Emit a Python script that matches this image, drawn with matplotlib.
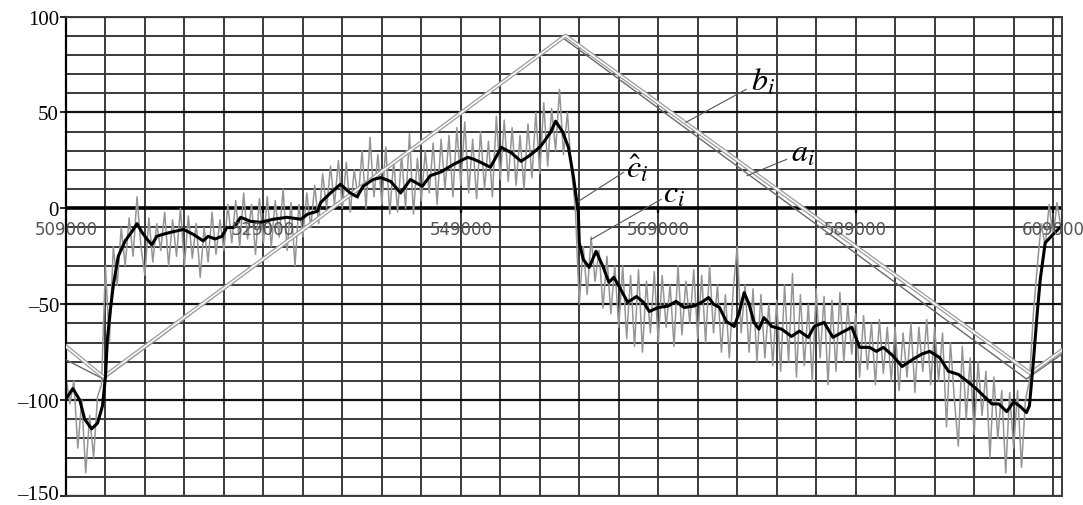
import numpy as np
import matplotlib
matplotlib.use("Agg")
import matplotlib.pyplot as plt
from matplotlib.transforms import ScaledTranslation

plt.rcParams['mathtext.fontset'] = 'stix'

# x axis in thousands of samples
x_min, x_max = 509.0, 609.9
x_labels = [509, 529, 549, 569, 589, 609]
y_labels = [100, 50, 0, -50, -100, -150]

# smoothed estimate (black line), c_hat_i
chat_x = [509.1, 509.7, 510.4, 510.9, 511.6, 512.2, 512.7, 513.0, 513.2, 513.5,
          513.8, 514.3, 515.0, 515.7, 516.2, 516.7, 517.2, 517.7, 518.2, 518.8,
          519.6, 520.9, 521.9, 522.9, 523.4, 524.1, 524.8, 525.3, 526.0, 526.7,
          527.7, 528.7, 530.0, 531.4, 532.8, 533.5, 534.5, 534.8, 535.8, 536.8,
          537.8, 538.5, 539.1, 540.1, 540.9, 541.9, 542.9, 543.9, 545.1, 545.9,
          547.0, 548.3, 549.7, 550.3, 551.0, 552.0, 553.1, 554.1, 555.1, 556.1,
          557.1, 558.1, 558.6, 559.3, 559.9, 560.4, 560.9, 561.0, 561.4, 562.0,
          562.7, 563.4, 564.0, 564.5, 565.2, 565.9, 566.8, 567.5, 568.1, 569.0,
          570.0, 570.8, 571.6, 572.6, 573.4, 574.1, 574.6, 575.2, 575.9, 576.7,
          577.2, 577.7, 578.2, 578.7, 579.2, 579.7, 580.5, 581.5, 582.5, 583.3,
          584.2, 584.8, 585.8, 586.7, 587.6, 588.6, 589.4, 590.4, 591.1, 591.8,
          592.8, 593.7, 594.7, 595.7, 596.5, 597.5, 598.4, 599.4, 600.5, 601.3,
          602.0, 602.8, 603.5, 604.3, 605.0, 605.6, 606.3, 606.6, 607.0, 607.4,
          607.7, 608.2, 609.2, 609.9]
chat_y = [-98.6, -94, -100, -110, -115, -112, -103, -88, -68, -53,
          -40, -25, -17, -12, -8, -12.5, -16, -19, -14.6, -13.6,
          -12.5, -11, -13.6, -17, -14.6, -16, -14.6, -10, -10, -4.7,
          -6.8, -7.3, -5.7, -4.7, -5.7, -3, -1.5, 3, 8, 12.5,
          8, 6, 11.5, 15, 16, 14, 8, 15, 11.5, 17,
          19, 23, 26.6, 25.6, 24, 21.4, 31.8, 29, 24.5, 28,
          32.4, 39.7, 45.4, 40, 31.8, 16.7, -2, -18, -26.6, -30.8,
          -22.4, -30.3, -38.6, -36, -42.3, -49, -46, -49, -53.8, -51.7,
          -51, -48.5, -51.7, -51, -49, -46.5, -50, -51.7, -59, -61.6,
          -54.3, -44, -50, -59.5, -63, -57, -61.6, -63, -66.8, -64,
          -67.3, -61.6, -59.5, -67.3, -64.7, -62, -72.5, -72.5, -74.6, -72.5,
          -77, -82.5, -79, -76, -74.6, -77.8, -85, -86.6, -91, -94.5,
          -98, -102, -102, -106, -101, -103, -106.5, -103, -80, -54,
          -37, -18, -12.5, -9]

# raw measurements (grey line), c_i, one value every 400 samples from 509000
c_vals = [
    -88, -102, -90, -125, -100, -138, -108, -130, -98, -92,
    -30, -70, -20, -40, -10, -30, -5, -25, 6, -20,
    -35, -5, -28, -8, -22, -2, -30, -6, -25, 0,
    -30, -4, -26, -8, -36, -10, -28, -2, -24, -6,
    -22, 2, -18, 4, -20, 8, -16, 2, -24, 5,
    -18, 6, -20, 4, -15, 10, -22, 3, -30, 2,
    -15, 8, -10, 12, -8, 18, 0, 22, 2, 25,
    0, 24, -2, 20, 5, 30, 0, 37, 6, 28,
    2, 32, -3, 25, -2, 28, 0, 39, -3, 26,
    4, 30, 8, 34, 2, 36, 10, 38, 6, 42,
    12, 45, 8, 36, 5, 40, 10, 35, 6, 48,
    15, 46, 14, 42, 12, 38, 10, 44, 16, 50,
    18, 55, 22, 52, 30, 62, 28, 50, 20, 0,
    -50, -20, -45, -15, -38, -22, -52, -25, -55, -30,
    -62, -30, -68, -35, -72, -32, -75, -38, -65, -33,
    -70, -35, -62, -40, -72, -30, -66, -38, -60, -32,
    -68, -35, -70, -30, -65, -40, -75, -45, -78, -42,
    -20, -65, -40, -75, -42, -80, -45, -78, -50, -82,
    -48, -85, -40, -80, -34, -88, -45, -82, -50, -90,
    -42, -78, -46, -92, -48, -85, -44, -80, -50, -76,
    -55, -88, -56, -84, -60, -92, -58, -86, -62, -90,
    -62, -95, -65, -88, -60, -96, -62, -85, -58, -92,
    -62, -90, -65, -114, -70, -100, -124, -72, -110, -78,
    -118, -80, -108, -85, -130, -88, -120, -95, -138, -96,
    -125, -95, -135, -100, -90, -55, -30, -8, -20, 2,
    -15, 3, -10,
]
c_x = 509.0 + 0.4 * np.arange(len(c_vals))

# piecewise linear models a_i (double line) and b_i (thin line)
a_x = [509.0, 512.8, 559.6, 606.7, 609.9]
a_y = [-72, -88, 90, -86, -74]
b_x = [509.0, 512.8, 559.3, 606.3, 609.9]
b_y = [-79, -89, 89, -89, -76]

fig = plt.figure(figsize=(10.83, 5.06), dpi=100)
ax = fig.add_axes([0.0609, 0.0178, 0.9197, 0.9476])
ax.set_xlim(x_min, x_max)
ax.set_ylim(-150, 100)

# grid
for gx in np.arange(509, 610, 4):
    ax.axvline(gx, color='#3a3a3a', lw=1.4, zorder=0)
for gy in np.arange(-150, 101, 10):
    if gy == 0:
        ax.axhline(gy, color='black', lw=2.6, zorder=0)
    elif gy % 50 == 0:
        ax.axhline(gy, color='#111111', lw=1.6, zorder=0)
    else:
        ax.axhline(gy, color='#3a3a3a', lw=1.4, zorder=0)

ax.plot(c_x, c_vals, color='#959595', lw=1.1, zorder=2)
ax.plot(b_x, b_y, color='#6a6a6a', lw=1.0, zorder=3)
ax.plot(a_x, a_y, color='#a0a0a0', lw=3.0, zorder=3)
ax.plot(a_x, a_y, color='white', lw=1.1, zorder=3)
ax.plot(chat_x, chat_y, color='black', lw=2.2, zorder=4)

# x labels sit just under the zero line
ax.vlines(x_labels, -2.5, 0, color='black', lw=1.6, zorder=1)
for v in x_labels:
    ax.text(v, -11, f"{v * 1000}", ha='center', va='center', fontsize=12,
            color='#555555', family='DejaVu Sans', zorder=5, clip_on=False)

# curve labels with leader lines
lead = dict(color='#555555', lw=0.8, zorder=5)
ax.plot([577.9, 571.8], [62, 44.8], **lead)
ax.text(578.4, 66, r'$b_i$', fontsize=23, ha='left', va='center', zorder=6)
ax.plot([582.0, 578.0], [25.5, 17.0], **lead)
ax.text(582.4, 29, r'$a_i$', fontsize=23, ha='left', va='center', zorder=6)
ax.plot([565.5, 560.9], [18.8, 3.6], **lead)
ax.text(565.7, 21, r'$\hat{c}_i$', fontsize=23, ha='left', va='center', zorder=6)
ax.plot([569.3, 562.2], [4.7, -16.2], **lead)
ax.text(569.5, 8, r'$c_i$', fontsize=23, ha='left', va='center', zorder=6)

ax.set_xticks([])
ax.set_yticks(y_labels)
ax.set_yticklabels([str(v).replace('-', '\u2013') for v in y_labels],
                   family='Liberation Serif', fontsize=15)
ax.tick_params(axis='y', length=4, width=1.2, pad=1, color='black')
# keep the bottom label inside the picture
low = ax.get_yticklabels()[-1]
low.set_transform(low.get_transform() + ScaledTranslation(0, 3 / 72, fig.dpi_scale_trans))
for side in ['top', 'right', 'bottom']:
    ax.spines[side].set_color('#3a3a3a')
    ax.spines[side].set_linewidth(1.4)
ax.spines['left'].set_linewidth(1.6)

fig.savefig('out.png', dpi=100, facecolor='white')
